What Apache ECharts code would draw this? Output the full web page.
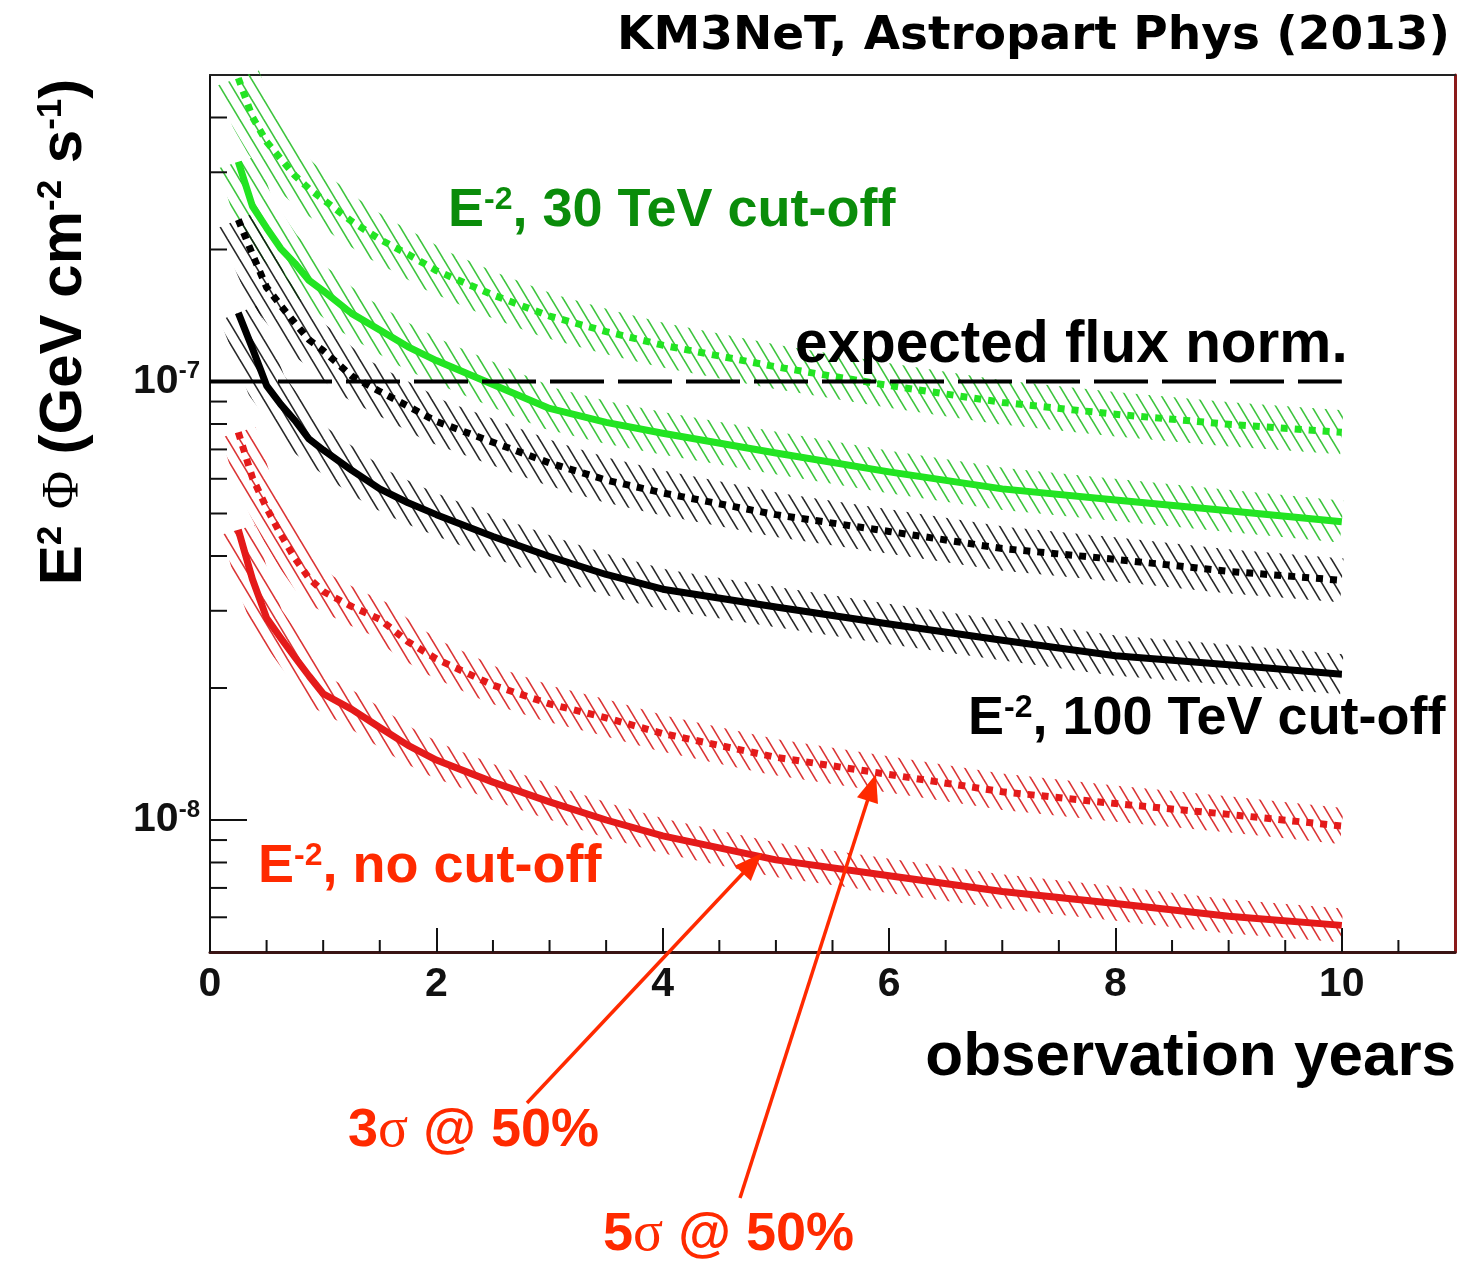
<!DOCTYPE html>
<html>
<head>
<meta charset="utf-8">
<script src="https://cdn.jsdelivr.net/npm/echarts@6/dist/echarts.min.js"></script>
<style>
html,body{margin:0;padding:0;background:#ffffff;}
#chart{width:1480px;height:1261px;}
</style>
</head>
<body>
<div id="chart"></div>
<script>
// ---------------- data ----------------
const years = [0.25, 0.375, 0.5, 0.625, 0.75, 0.875, 1, 1.25, 1.5, 1.75, 2, 2.5, 3, 3.5, 4, 5, 6, 7, 8, 9, 10];

// E^-2, 30 TeV cut-off (5 sigma dotted, 3 sigma solid)
const green30Disc = [4.92e-7, 4.01e-7, 3.52e-7, 3.22e-7, 2.95e-7, 2.75e-7, 2.60e-7, 2.32e-7, 2.11e-7, 1.95e-7, 1.79e-7, 1.575e-7, 1.41e-7, 1.30e-7, 1.21e-7, 1.08e-7, 9.79e-8, 8.96e-8, 8.42e-8, 7.99e-8, 7.66e-8];
const green30Evid = [3.17e-7, 2.51e-7, 2.24e-7, 2.01e-7, 1.86e-7, 1.70e-7, 1.61e-7, 1.43e-7, 1.31e-7, 1.20e-7, 1.116e-7, 9.84e-8, 8.68e-8, 8.07e-8, 7.62e-8, 6.87e-8, 6.22e-8, 5.69e-8, 5.37e-8, 5.07e-8, 4.79e-8];
// E^-2, 100 TeV cut-off
const black100Disc = [2.34e-7, 1.95e-7, 1.64e-7, 1.49e-7, 1.36e-7, 1.245e-7, 1.176e-7, 1.03e-7, 9.49e-8, 8.78e-8, 8.11e-8, 7.27e-8, 6.52e-8, 5.96e-8, 5.57e-8, 4.97e-8, 4.55e-8, 4.16e-8, 3.93e-8, 3.69e-8, 3.52e-8];
const black100Evid = [1.434e-7, 1.19e-7, 9.79e-8, 8.87e-8, 8.15e-8, 7.39e-8, 6.98e-8, 6.28e-8, 5.69e-8, 5.29e-8, 4.97e-8, 4.43e-8, 3.99e-8, 3.63e-8, 3.36e-8, 3.06e-8, 2.80e-8, 2.57e-8, 2.37e-8, 2.26e-8, 2.15e-8];
// E^-2, no cut-off
const redNoCutDisc = [7.66e-8, 6.03e-8, 5.15e-8, 4.48e-8, 3.95e-8, 3.56e-8, 3.32e-8, 3.07e-8, 2.87e-8, 2.55e-8, 2.33e-8, 2.03e-8, 1.84e-8, 1.71e-8, 1.575e-8, 1.39e-8, 1.27e-8, 1.16e-8, 1.09e-8, 1.03e-8, 9.69e-9];
const redNoCutEvid = [4.59e-8, 3.54e-8, 2.89e-8, 2.60e-8, 2.35e-8, 2.13e-8, 1.94e-8, 1.79e-8, 1.625e-8, 1.48e-8, 1.37e-8, 1.22e-8, 1.10e-8, 1.00e-8, 9.20e-9, 8.11e-9, 7.46e-9, 6.87e-9, 6.45e-9, 6.03e-9, 5.75e-9];

// expected flux normalisation
const fluxNorm = 1e-7;
const fluxNormYears = [0, 10];

// axis ticks
const xMinorTicks = [0.5, 1, 1.5, 2.5, 3, 3.5, 4.5, 5, 5.5, 6.5, 7, 7.5, 8.5, 9, 9.5, 10.5];
const yMinorTicks = [6e-9, 7e-9, 8e-9, 9e-9, 2e-8, 3e-8, 4e-8, 5e-8, 6e-8, 7e-8, 8e-8, 9e-8, 2e-7, 3e-7, 4e-7];

// ---------------- styling ----------------
const GREEN = '#22e422';
const BLACK = '#000000';
const RED = '#e41a1a';
const TXT_GREEN = '#0a8c0a';
const TXT_RED = '#ff2a00';
const SANS = '"Liberation Sans", Arial, Helvetica, sans-serif';
const SERIF = '"Liberation Serif", "Times New Roman", serif';

function makeHatch(color, lw) {
  const c = document.createElement('canvas');
  c.width = 12; c.height = 20;
  const ctx = c.getContext('2d');
  ctx.strokeStyle = color;
  ctx.lineWidth = lw;
  for (const k of [-1, 0, 1]) {
    ctx.beginPath();
    ctx.moveTo(12 * k - 6, -10);
    ctx.lineTo(12 * k + 18, 30);
    ctx.stroke();
  }
  return { image: c, repeat: 'repeat' };
}
const hatchGreen = makeHatch('rgba(40,190,40,0.9)', 1.6);
const hatchBlack = makeHatch('rgba(15,15,15,0.9)', 1.6);
const hatchRed = makeHatch('rgba(215,30,30,0.9)', 1.6);

const curves = [
  { vals: green30Disc, color: GREEN, hatch: hatchGreen, dotted: true, band: 44 },
  { vals: green30Evid, color: GREEN, hatch: hatchGreen, dotted: false, band: 42 },
  { vals: black100Disc, color: BLACK, hatch: hatchBlack, dotted: true, band: 44 },
  { vals: black100Evid, color: BLACK, hatch: hatchBlack, dotted: false, band: 40 },
  { vals: redNoCutDisc, color: RED, hatch: hatchRed, dotted: true, band: 36 },
  { vals: redNoCutEvid, color: RED, hatch: hatchRed, dotted: false, band: 34 }
];

const series = [];
curves.forEach(c => {
  const data = years.map((x, i) => [x, c.vals[i]]);
  series.push({
    type: 'line', data: data, symbol: 'none', silent: true, z: 1, smooth: false,
    lineStyle: { width: c.band, color: c.hatch, cap: 'butt', join: 'round' }
  });
  series.push({
    type: 'line', data: data, symbol: 'none', silent: true, z: 3, smooth: false,
    lineStyle: { width: 7, color: c.color, type: c.dotted ? [7, 7] : 'solid', cap: 'butt', join: 'round' }
  });
});

series.push({
  type: 'line', silent: true, symbol: 'none', z: 4,
  data: fluxNormYears.map(x => [x, fluxNorm]),
  lineStyle: { color: '#000', width: 4, type: [54, 14] }
});

series.push({
  type: 'custom', silent: true, z: 5, clip: false,
  data: xMinorTicks.map(x => [x, 5e-9]),
  renderItem: function (params, api) {
    const p = api.coord([api.value(0), api.value(1)]);
    return { type: 'line', shape: { x1: p[0], y1: p[1], x2: p[0], y2: p[1] - 12 }, style: { stroke: '#111', lineWidth: 2 } };
  }
});
series.push({
  type: 'custom', silent: true, z: 5, clip: false,
  data: yMinorTicks.map(v => [0, v]),
  renderItem: function (params, api) {
    const p = api.coord([api.value(0), api.value(1)]);
    return { type: 'line', shape: { x1: p[0], y1: p[1], x2: p[0] + 17, y2: p[1] }, style: { stroke: '#111', lineWidth: 2 } };
  }
});

// arrows
function arrow(x0, y0, x1, y1, color) {
  const dx = x1 - x0, dy = y1 - y0;
  const len = Math.sqrt(dx * dx + dy * dy);
  const ux = dx / len, uy = dy / len;
  const L = 28, W = 11;
  const bx = x1 - ux * L, by = y1 - uy * L;
  return [
    { type: 'line', silent: true, z: 20, shape: { x1: x0, y1: y0, x2: x1 - ux * L * 0.7, y2: y1 - uy * L * 0.7 }, style: { stroke: color, lineWidth: 3.5 } },
    { type: 'polygon', silent: true, z: 20, shape: { points: [[x1, y1], [bx - uy * W, by + ux * W], [bx + uy * W, by - ux * W]] }, style: { fill: color } }
  ];
}

const supRich = (fs, col) => ({
  e: { fontSize: fs, fontWeight: 'bold', fontFamily: SANS, fill: col, lineHeight: fs },
  s: { fontSize: Math.round(fs * 0.6), fontWeight: 'bold', fontFamily: SANS, fill: col, verticalAlign: 'top', lineHeight: Math.round(fs * 0.6) }
});

const graphics = [
  { type: 'text', x: 1450, y: 37, z: 20, silent: true,
    style: { text: 'KM3NeT, Astropart Phys (2013)', fill: '#000', fontSize: 47, fontWeight: 'bold', fontFamily: '"DejaVu Sans", sans-serif', align: 'right', verticalAlign: 'middle' } },
  { type: 'text', x: 448, y: 211, z: 20, silent: true,
    style: { text: '{e|E}{s|-2}{e|, 30 TeV cut-off}', rich: supRich(54, TXT_GREEN), align: 'left', verticalAlign: 'middle' } },
  { type: 'text', x: 795, y: 346, z: 20, silent: true,
    style: { text: 'expected flux norm.', fill: '#000', fontSize: 58.5, fontWeight: 'bold', fontFamily: SANS, align: 'left', verticalAlign: 'middle' } },
  { type: 'text', x: 968, y: 719, z: 20, silent: true,
    style: { text: '{e|E}{s|-2}{e|, 100 TeV cut-off}', rich: supRich(54, '#000'), align: 'left', verticalAlign: 'middle' } },
  { type: 'text', x: 258, y: 867, z: 20, silent: true,
    style: { text: '{e|E}{s|-2}{e|, no cut-off}', rich: supRich(54, TXT_RED), align: 'left', verticalAlign: 'middle' } },
  { type: 'text', x: 348, y: 1131, z: 20, silent: true,
    style: { text: '{e|3}{g|σ}{e| @ 50%}', align: 'left', verticalAlign: 'middle',
      rich: { e: { fontSize: 54, fontWeight: 'bold', fontFamily: SANS, fill: TXT_RED }, g: { fontSize: 56, fontFamily: SERIF, fill: TXT_RED } } } },
  { type: 'text', x: 603, y: 1235, z: 20, silent: true,
    style: { text: '{e|5}{g|σ}{e| @ 50%}', align: 'left', verticalAlign: 'middle',
      rich: { e: { fontSize: 54, fontWeight: 'bold', fontFamily: SANS, fill: TXT_RED }, g: { fontSize: 56, fontFamily: SERIF, fill: TXT_RED } } } },
  { type: 'text', x: 1456, y: 1058, z: 20, silent: true,
    style: { text: 'observation years', fill: '#000', fontSize: 62, fontWeight: 'bold', fontFamily: SANS, align: 'right', verticalAlign: 'middle' } },
  { type: 'text', x: 64, y: 332, rotation: Math.PI / 2, z: 20, silent: true,
    style: { text: '{b|E}{s|2}{b| }{p|Φ}{b| (GeV cm}{s|-2}{b| s}{s|-1}{b|)}', align: 'center', verticalAlign: 'middle',
      rich: {
        b: { fontSize: 60, fontWeight: 'bold', fontFamily: SANS, fill: '#000', lineHeight: 60 },
        s: { fontSize: 35, fontWeight: 'bold', fontFamily: SANS, fill: '#000', verticalAlign: 'top', lineHeight: 35 },
        p: { fontSize: 52, fontFamily: SERIF, fill: '#000', lineHeight: 60 }
      } } }
].concat(arrow(527, 1103, 762, 853, TXT_RED)).concat(arrow(740, 1198, 876, 774, TXT_RED));

const option = {
  animation: false,
  backgroundColor: '#ffffff',
  grid: { left: 210, top: 75, right: 25, bottom: 309, containLabel: false },
  xAxis: [
    { type: 'value', min: 0, max: 11, interval: 2, position: 'bottom',
      axisLine: { show: true, onZero: false, lineStyle: { color: '#3a1414', width: 3 } },
      axisTick: { show: true, inside: true, length: 24, lineStyle: { color: '#111', width: 2 } },
      axisLabel: { show: true, showMaxLabel: false, margin: 12, fontSize: 41, fontWeight: 'bold', fontFamily: SANS, color: '#111' },
      splitLine: { show: false }, minorTick: { show: false } },
    { type: 'value', min: 0, max: 11, position: 'top',
      axisLine: { show: true, onZero: false, lineStyle: { color: '#222', width: 2 } },
      axisTick: { show: false }, axisLabel: { show: false }, splitLine: { show: false } }
  ],
  yAxis: [
    { type: 'log', logBase: 10, min: 5e-9, max: 5e-7, position: 'left',
      axisLine: { show: true, onZero: false, lineStyle: { color: '#111', width: 2 } },
      axisTick: { show: true, inside: true, length: 37, lineStyle: { color: '#111', width: 2 } },
      axisLabel: {
        show: true, showMinLabel: false, showMaxLabel: false, margin: 10,
        formatter: function (v) {
          const e = Math.log10(v); const r = Math.round(e);
          if (Math.abs(e - r) > 1e-6) return '';
          return '{b|10}{s|' + r + '}';
        },
        rich: {
          b: { fontSize: 41, fontWeight: 'bold', fontFamily: SANS, color: '#111', lineHeight: 44 },
          s: { fontSize: 24, fontWeight: 'bold', fontFamily: SANS, color: '#111', verticalAlign: 'top', lineHeight: 24 }
        }
      },
      splitLine: { show: false }, minorTick: { show: false } },
    { type: 'value', min: 0, max: 1, position: 'right',
      axisLine: { show: true, onZero: false, lineStyle: { color: '#8b1a1a', width: 3 } },
      axisTick: { show: false }, axisLabel: { show: false }, splitLine: { show: false } }
  ],
  series: series,
  graphic: graphics
};

const chart = echarts.init(document.getElementById('chart'), null, { renderer: 'canvas' });
chart.setOption(option);
</script>
</body>
</html>
